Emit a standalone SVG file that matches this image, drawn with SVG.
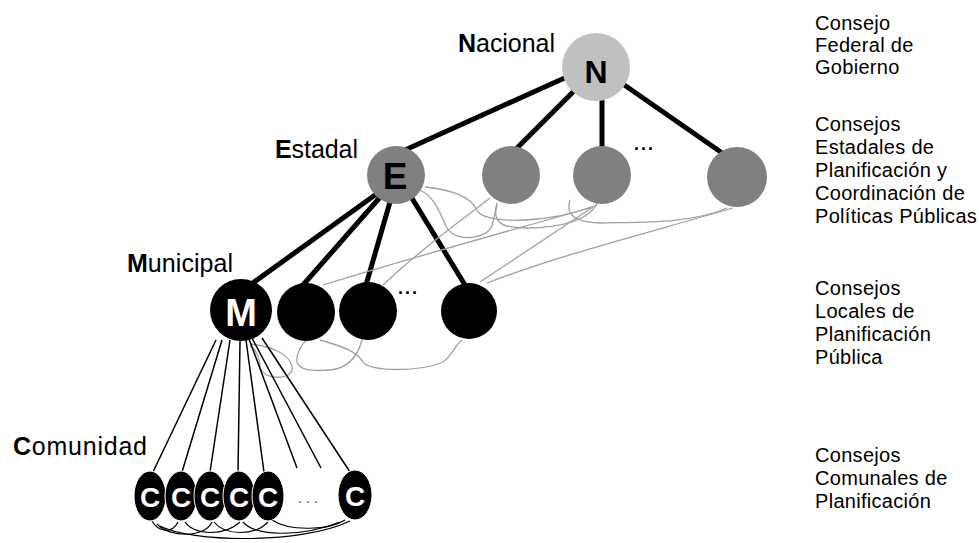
<svg xmlns="http://www.w3.org/2000/svg" width="979" height="543" viewBox="0 0 979 543">
<style>
.lbl{font-family:"Liberation Sans",Arial,sans-serif;font-size:25px;fill:#000}
.rt{font-family:"Liberation Sans",Arial,sans-serif;font-size:20px;letter-spacing:0.3px;fill:#000}
.thick{stroke:#000;stroke-width:5;stroke-linecap:round;fill:none}
.thin{stroke:#000;stroke-width:1.5;fill:none}
.gray{stroke:#a0a0a0;stroke-width:1.3;fill:none}
.arc{stroke:#000;stroke-width:1.2;fill:none}
.ltr{font-family:"Liberation Sans",Arial,sans-serif;font-weight:bold;text-anchor:middle}
.dots{font-family:"Liberation Sans",Arial,sans-serif;font-weight:bold;font-size:18px;fill:#000;letter-spacing:2px}
</style>
<rect width="979" height="543" fill="#fff"/>
<g id="connectors">
  <line class="thick" x1="600" y1="62" x2="405" y2="150"/>
  <line class="thick" x1="585" y1="80" x2="515" y2="150"/>
  <line class="thick" x1="602" y1="90" x2="602" y2="150"/>
  <line class="thick" x1="610" y1="75" x2="725" y2="155"/>
  <line class="thick" x1="375" y1="195" x2="250" y2="285"/>
  <line class="thick" x1="382" y1="195" x2="303" y2="285"/>
  <line class="thick" x1="392" y1="195" x2="366" y2="285"/>
  <line class="thick" x1="410" y1="195" x2="465" y2="285"/>
  <path class="gray" d="M425,187 C452,190 470,196 477,210 C482,224 545,225 597,205"/>
  <path class="gray" d="M420,190 C436,198 440,214 447,228 C455,242 486,240 492,226 L497,205"/>
  <path class="gray" d="M490,198 C465,218 425,245 383,285"/>
  <path class="gray" d="M593,207 L480,282"/>
  <path class="gray" d="M733,208 C640,235 560,255 487,283"/>
  <path class="gray" d="M497,203 C492,222 500,228 527,228 C560,228 590,220 597,203"/>
  <path class="gray" d="M570,200 C565,215 575,222 600,223 C640,222 690,224 727,208"/>
  <path class="gray" d="M593,207 C520,228 420,255 323,285"/>
  <path class="gray" d="M320,340 C345,347 357,352 363,362 C370,372 420,372 443,362 C452,356 455,345 462,340"/>
  <path class="gray" d="M362,340 C358,355 350,368 330,370 C305,372 295,368 297,357 C299,348 303,343 307,340"/>
  <path class="gray" d="M250,344 C268,346 288,352 292,366 C296,380 262,382 260,366 C259,356 256,349 250,346"/>
  <line class="thin" x1="216" y1="340" x2="153" y2="472"/>
  <line class="thin" x1="222" y1="340" x2="182" y2="472"/>
  <line class="thin" x1="230" y1="340" x2="210" y2="472"/>
  <line class="thin" x1="240" y1="341" x2="238" y2="472"/>
  <line class="thin" x1="246" y1="340" x2="264" y2="472"/>
  <line class="thin" x1="249" y1="339" x2="297" y2="468"/>
  <line class="thin" x1="252" y1="338" x2="321" y2="468"/>
  <line class="thin" x1="262" y1="338" x2="350" y2="472"/>
  <path class="arc" d="M152,521 C158,532 172,534 178,522"/>
  <path class="arc" d="M157,524 C170,538 205,538 212,522"/>
  <path class="arc" d="M185,522 C195,536 225,536 240,522"/>
  <path class="arc" d="M214,522 C225,536 255,536 268,522"/>
  <path class="arc" d="M243,522 C255,536 300,538 340,522"/>
  <path class="arc" d="M272,520 C290,532 330,530 345,520"/>
  <path class="arc" d="M160,526 C190,542 300,545 350,521"/>
</g>
<g id="nacional">
  <circle cx="596" cy="67" r="34" fill="#c0c0c0"/>
  <text class="ltr" x="596" y="83" font-size="32">N</text>
  <text class="lbl" x="458" y="52" textLength="97"><tspan font-weight="bold">N</tspan>acional</text>
</g>
<g id="estadal">
  <circle cx="396" cy="175" r="29" fill="#808080"/>
  <text class="ltr" x="395" y="189" font-size="37" fill="#000">E</text>
  <text class="lbl" x="275" y="158" textLength="83"><tspan font-weight="bold">E</tspan>stadal</text>
</g>
<g id="estadal-2"><circle cx="511" cy="175" r="29" fill="#808080"/></g>
<g id="estadal-3"><circle cx="602" cy="175" r="29" fill="#808080"/></g>
<g id="estadal-4"><circle cx="737" cy="177" r="30" fill="#808080"/></g>
<text class="dots" x="634" y="150">...</text>
<g id="municipal">
  <circle cx="241" cy="310" r="31" fill="#000"/>
  <text class="ltr" x="241" y="326" font-size="38" fill="#fff">M</text>
  <text class="lbl" x="127" y="272" textLength="106"><tspan font-weight="bold">M</tspan>unicipal</text>
</g>
<g id="municipal-2"><circle cx="306" cy="312" r="29" fill="#000"/></g>
<g id="municipal-3"><circle cx="368" cy="311" r="29" fill="#000"/></g>
<g id="municipal-4"><circle cx="469" cy="311" r="28" fill="#000"/></g>
<text class="dots" x="398" y="294">...</text>
<g id="comunidad">
  <text class="lbl" x="13" y="455" textLength="134"><tspan font-weight="bold">C</tspan>omunidad</text>
  <g id="c1"><ellipse cx="150" cy="496" rx="16" ry="25" fill="#000" stroke="#fff"/><text class="ltr" x="150" y="507" font-size="28" fill="#fff">C</text></g>
  <g id="c2"><ellipse cx="181" cy="496" rx="16" ry="25" fill="#000" stroke="#fff"/><text class="ltr" x="181" y="507" font-size="28" fill="#fff">C</text></g>
  <g id="c3"><ellipse cx="210" cy="496" rx="16" ry="25" fill="#000" stroke="#fff"/><text class="ltr" x="210" y="507" font-size="28" fill="#fff">C</text></g>
  <g id="c4"><ellipse cx="239" cy="496" rx="16" ry="25" fill="#000" stroke="#fff"/><text class="ltr" x="239" y="507" font-size="28" fill="#fff">C</text></g>
  <g id="c5"><ellipse cx="268" cy="496" rx="16" ry="25" fill="#000" stroke="#fff"/><text class="ltr" x="268" y="507" font-size="28" fill="#fff">C</text></g>
  <g id="c6"><ellipse cx="355" cy="495" rx="17" ry="25" fill="#000" stroke="#fff"/><text class="ltr" x="355" y="506" font-size="28" fill="#fff">C</text></g>
  <text x="298" y="503" font-family="Liberation Sans, Arial, sans-serif" font-size="14" fill="#444" letter-spacing="4">...</text>
</g>
<g id="legend">
  <text class="rt" x="815" y="30">Consejo</text>
  <text class="rt" x="815" y="52">Federal de</text>
  <text class="rt" x="815" y="74">Gobierno</text>
  <text class="rt" x="815" y="131">Consejos</text>
  <text class="rt" x="815" y="154">Estadales de</text>
  <text class="rt" x="815" y="177">Planificación y</text>
  <text class="rt" x="815" y="200">Coordinación de</text>
  <text class="rt" x="815" y="223">Políticas Públicas</text>
  <text class="rt" x="815" y="295">Consejos</text>
  <text class="rt" x="815" y="318">Locales de</text>
  <text class="rt" x="815" y="341">Planificación</text>
  <text class="rt" x="815" y="364">Pública</text>
  <text class="rt" x="815" y="462">Consejos</text>
  <text class="rt" x="815" y="485">Comunales de</text>
  <text class="rt" x="815" y="508">Planificación</text>
</g>
</svg>
